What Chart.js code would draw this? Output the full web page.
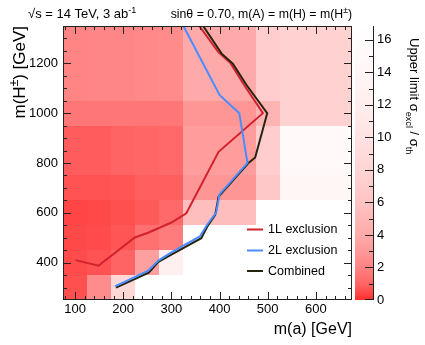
<!DOCTYPE html>
<html><head><meta charset="utf-8">
<script src="https://cdn.jsdelivr.net/npm/chart.js@4/dist/chart.umd.min.js"></script>
<style>html,body{margin:0;padding:0;background:#fff;}canvas{display:block;}</style>
</head><body>
<canvas id="c" width="425" height="345"></canvas>
<script>
// ---- data ----
const maCenters = [100,150,200,250,300,350,400,450,500,550,600,650];
const mHCenters = [300,400,500,600,700,800,900,1000,1100,1200,1300];
const binHalfMa = 25, binHalfMH = 50;
const z300  = [0.6, 2.45, 8.4, null,null,null,null,null,null,null,null,null];
const z400  = [0.5, 0.65, 1.0, 3.45, 12.6, null,null,null,null,null,null,null];
const z500  = [0.45,0.5, 0.7, 1.4, 1.8, null,null,null,null,null,null,null];
const z600  = [0.4, 0.45,0.6, 0.8, 1.17,5.6, 5.6, 5.6, null,null,null,null];
const z700  = [0.65,0.65,0.7, 0.9, 0.9, 2.9, 2.9, 2.9, 6.6, 14.0,14.0,14.0];
const z800  = [0.85,0.85,1.0, 1.1, 1.15,3.3, 3.3, 3.3, 7.2, 15.0,15.0,15.0];
const z900  = [0.85,0.85,1.0, 1.1, 1.15,3.3, 3.3, 3.3, 7.2, 15.0,15.0,15.0];
const z1000 = [1.6, 1.6, 1.6, 1.6, 1.6, 2.9, 2.9, 2.9, 4.8, 7.8, 7.8, 7.8];
const z1100 = [2.1, 2.2, 2.2, 2.3, 2.4, 4.0, 4.0, 4.0, 7.2, 7.8, 7.8, 7.8];
const z1200 = [2.1, 2.2, 2.2, 2.3, 2.4, 4.0, 4.0, 4.0, 7.2, 7.8, 7.8, 7.8];
const z1300 = [2.1, 2.2, 2.2, 2.3, 2.4, 4.0, 4.0, 4.0, 7.2, 7.8, 7.8, 7.8];
const zRows = [z300,z400,z500,z600,z700,z800,z900,z1000,z1100,z1200,z1300];

const oneL_ma = [101,149,224,253,300,331,398,490,451,423,397,358];
const oneL_mH = [410,388,501,521,561,598,845,1000,1113,1200,1246,1350];
const twoL_ma = [183,252,273,300,359,375,393,400,458,441,400,325];
const twoL_mH = [305,368,408,441,505,554,601,674,800,1000,1073,1350];
const comb_ma = [185,253,273,300,362,375,391,398,460,474,499,456,428,404,366];
const comb_mH = [300,360,403,432,498,546,592,665,800,822,1000,1113,1198,1240,1350];

const xTickLabels = [100,200,300,400,500,600];
const yTickLabels = [400,600,800,1000,1200];
const zTickLabels = [0,2,4,6,8,10,12,14,16];
const zMax = 16.85;

// ---- colour map (value -> light level of g/b) ----
const cmapV = [0, 0.5, 1, 2, 3, 4, 6, 8, 10, 12, 14, 16.85];
const cmapG = [45, 75, 100,130,152,170,195,212,226,237,246,255];
function colorFor(v){
  if (v <= cmapV[0]) return `rgb(255,${cmapG[0]},${cmapG[0]})`;
  for (let i=1;i<cmapV.length;i++){
    if (v <= cmapV[i]){
      const t=(v-cmapV[i-1])/(cmapV[i]-cmapV[i-1]);
      const g=Math.round(cmapG[i-1]+t*(cmapG[i]-cmapG[i-1]));
      return `rgb(255,${g},${g})`;
    }
  }
  return 'rgb(255,255,255)';
}
const FAM = '"Liberation Sans", Arial, Helvetica, sans-serif';

function richWidth(ctx, parts, size){
  let w=0;
  parts.forEach(p=>{ const s=(p.sup||p.sub)?size*0.7:size; ctx.font=`${s}px ${FAM}`; w+=ctx.measureText(p.t).width; });
  return w;
}
function drawRich(ctx, parts, x, y, size){
  let cx=x;
  ctx.textAlign='left'; ctx.textBaseline='alphabetic';
  parts.forEach(p=>{
    const s=(p.sup||p.sub)?size*0.7:size;
    ctx.font=`${s}px ${FAM}`;
    const dy=p.sup?-size*0.42:(p.sub?size*0.28:0);
    ctx.fillText(p.t,cx,y+dy);
    cx+=ctx.measureText(p.t).width;
  });
}

const pts = (xs, ys) => xs.map((v,i)=>({x:v, y:ys[i]}));

const heatPlugin = {
  id:'heat',
  beforeDatasetsDraw(chart){
    const {ctx, scales:{x,y}} = chart;
    ctx.save();
    mHCenters.forEach((mh,i)=>{
      maCenters.forEach((ma,j)=>{
        const v = zRows[i][j];
        if (v==null) return;
        const x0=Math.round(x.getPixelForValue(ma-binHalfMa)), x1=Math.round(x.getPixelForValue(ma+binHalfMa));
        const y0=Math.round(y.getPixelForValue(mh+binHalfMH)), y1=Math.round(y.getPixelForValue(mh-binHalfMH));
        ctx.fillStyle=colorFor(v);
        ctx.fillRect(x0,y0,x1-x0,y1-y0);
      });
    });
    ctx.restore();
  },
  afterDatasetsDraw(chart){
    const {ctx, chartArea:a, scales:{x,y,z}} = chart;
    ctx.save();
    // frame
    ctx.strokeStyle='#222'; ctx.lineWidth=1;
    ctx.strokeRect(a.left+0.5, a.top+0.5, a.right-a.left-1, a.bottom-a.top-1);
    // ticks
    ctx.beginPath();
    for (let v=80; v<=660; v+=20){
      const px=Math.round(x.getPixelForValue(v))+0.5;
      const len=(v%100===0)?8:4;
      ctx.moveTo(px,a.bottom); ctx.lineTo(px,a.bottom-len);
      ctx.moveTo(px,a.top); ctx.lineTo(px,a.top+len);
    }
    for (let v=300; v<=1300; v+=50){
      const py=Math.round(y.getPixelForValue(v))+0.5;
      const len=(v%200===0)?8:4;
      ctx.moveTo(a.left,py); ctx.lineTo(a.left+len,py);
      ctx.moveTo(a.right,py); ctx.lineTo(a.right-len,py);
    }
    ctx.stroke();

    // colour bar
    const cbL=355, cbR=373;
    for (let py=Math.round(a.top); py<Math.round(a.bottom); py++){
      const v=z.getValueForPixel(py+0.5);
      ctx.fillStyle=colorFor(v);
      ctx.fillRect(cbL,py,cbR-cbL,1);
    }
    ctx.beginPath();
    ctx.moveTo(cbR+0.5,a.top); ctx.lineTo(cbR+0.5,a.bottom);
    for (let v=0; v<=16; v+=1){
      const py=Math.round(z.getPixelForValue(v))+0.5 - (v===0?1:0);
      const len=(v%2===0)?8:4;
      ctx.moveTo(cbR,py); ctx.lineTo(cbR-len,py);
    }
    ctx.stroke();
    ctx.fillStyle='#000'; ctx.font=`13px ${FAM}`; ctx.textAlign='left'; ctx.textBaseline='middle';
    zTickLabels.forEach(v=>{ ctx.fillText(String(v), cbR+4, z.getPixelForValue(v)); });

    // colour bar title
    ctx.save();
    ctx.translate(410, 38); ctx.rotate(Math.PI/2);
    ctx.fillStyle='#000';
    drawRich(ctx,[{t:'Upper limit σ'},{t:'excl',sub:true},{t:' / σ'},{t:'th',sub:true}],0,0,13);
    ctx.restore();

    // axis titles
    ctx.fillStyle='#000';
    const xt=[{t:'m(a) [GeV]'}];
    drawRich(ctx,xt,a.right-richWidth(ctx,xt,16),334,16);
    ctx.save();
    const yt=[{t:'m(H'},{t:'±',sup:true},{t:') [GeV]'}];
    const yw=richWidth(ctx,yt,17);
    ctx.translate(25,a.top); ctx.rotate(-Math.PI/2);
    drawRich(ctx,yt,-yw,0,17);
    ctx.restore();

    // top labels
    drawRich(ctx,[{t:'√s = 14 TeV, 3 ab'},{t:'-1',sup:true}],28,18,13);
    const tr=[{t:'sinθ = 0.70, m(A) = m(H) = m(H'},{t:'±',sup:true},{t:')'}];
    drawRich(ctx,tr,a.right-richWidth(ctx,tr,12.3),18,12.3);

    // legend
    const legY=[229.5,250.5,271];
    const legOrder=[0,1,2];
    legOrder.forEach((di,k)=>{
      const ds=chart.data.datasets[di];
      ctx.strokeStyle=ds.borderColor; ctx.lineWidth=2;
      ctx.beginPath(); ctx.moveTo(247,legY[k]); ctx.lineTo(263,legY[k]); ctx.stroke();
      ctx.fillStyle='#000'; ctx.font=`12.5px ${FAM}`; ctx.textAlign='left'; ctx.textBaseline='middle';
      ctx.fillText(ds.label,268,legY[k]+0.5);
    });
    ctx.restore();
  }
};

new Chart(document.getElementById('c'), {
  type:'scatter',
  data:{datasets:[
    {label:'1L exclusion', data:pts(oneL_ma,oneL_mH), showLine:true, borderColor:'#d2222e', borderWidth:2, pointRadius:0, order:3},
    {label:'2L exclusion', data:pts(twoL_ma,twoL_mH), showLine:true, borderColor:'#4a8cff', borderWidth:2, pointRadius:0, order:1},
    {label:'Combined', data:pts(comb_ma,comb_mH), showLine:true, borderColor:'#26240f', borderWidth:2, pointRadius:0, order:2}
  ]},
  options:{
    responsive:false, animation:false, devicePixelRatio:1,
    layout:{padding:{left:0,right:73,top:26,bottom:0}},
    plugins:{legend:{display:false}, tooltip:{enabled:false}, title:{display:false}},
    scales:{
      x:{type:'linear', min:75, max:675, position:'bottom',
         grid:{display:false, drawTicks:false}, border:{display:false},
         afterBuildTicks:s=>{ s.ticks = xTickLabels.map(v=>({value:v})); },
         afterFit:s=>{ s.height=45; },
         ticks:{padding:2, color:'#000', font:{family:FAM, size:13}, maxRotation:0, autoSkip:false, callback:v=>String(v)}},
      y:{type:'linear', min:250, max:1350, position:'left',
         grid:{display:false, drawTicks:false}, border:{display:false},
         afterBuildTicks:s=>{ s.ticks = yTickLabels.map(v=>({value:v})); },
         afterFit:s=>{ s.width=63; },
         ticks:{padding:5, color:'#000', font:{family:FAM, size:13}, autoSkip:false, callback:v=>String(v)}},
      z:{type:'linear', min:0, max:zMax, position:'right', display:false}
    }
  },
  plugins:[heatPlugin]
});
</script>
</body></html>
